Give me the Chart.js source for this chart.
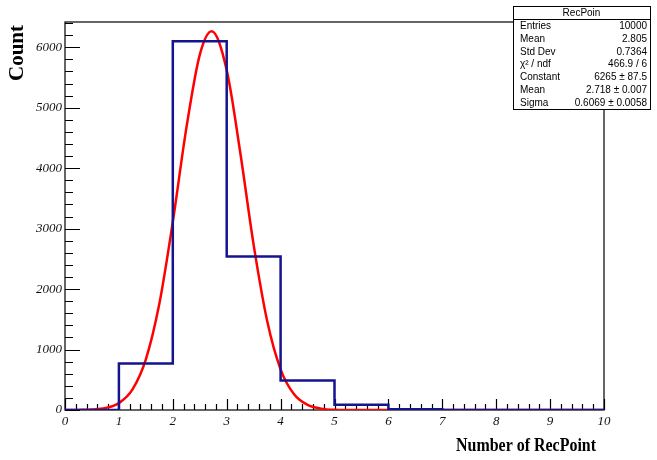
<html><head>
<style>
  body { margin: 0; background: #fff; }
  #wrap { width: 657px; height: 460px; position: relative; }
</style>
<script src="https://cdn.jsdelivr.net/npm/chart.js"></script>
</head>
<body>
<div id="wrap"><canvas id="chart"></canvas></div>
<script>
// histogram: lower bin edges and counts (last point closes the range at 10)
const binEdges = [0, 1, 2, 3, 4, 5, 6, 7, 8, 9, 10];
const binCounts = [0, 770, 6100, 2540, 490, 88, 12, 0, 0, 0, 0];

// gaussian fit curve
const fitX = [0, 0.25, 0.5, 0.75, 1, 1.25, 1.5, 1.75, 2, 2.25, 2.5, 2.72, 3, 3.25, 3.5, 3.75, 4, 4.25, 4.5, 4.75, 5, 5.5, 6, 7, 8, 9, 10];
const fitY = [0, 2, 8, 33, 114, 336, 836, 1756, 3112, 4654, 5874, 6265, 5624, 4267, 2731, 1476, 673, 259, 84, 23, 5, 0, 0, 0, 0, 0, 0];

const yTicks = [0, 1000, 2000, 3000, 4000, 5000, 6000];
const xTicks = [0, 1, 2, 3, 4, 5, 6, 7, 8, 9, 10];

const statsTitle = 'RecPoin';
const statsLabels = ['Entries', 'Mean', 'Std Dev', 'χ² / ndf', 'Constant', 'Mean', 'Sigma'];
const statsValues = ['10000', '2.805', '0.7364', '466.9 / 6', '6265 ± 87.5', '2.718 ± 0.007', '0.6069 ± 0.0058'];

const frame = {
  id: 'frame',
  beforeDatasetsDraw(chart) {
    const ctx = chart.ctx, a = chart.chartArea;
    const xs = chart.scales.x, ys = chart.scales.y;
    ctx.save();
    ctx.strokeStyle = '#000';
    ctx.lineWidth = 1.2;
    ctx.strokeRect(a.left, a.top, a.right - a.left, a.bottom - a.top);
    ctx.beginPath();
    // y ticks, inside
    for (let v = 0; v <= ys.max; v += 200) {
      const py = Math.round(ys.getPixelForValue(v)) + 0.5;
      const len = v % 1000 === 0 ? 15 : 8;
      ctx.moveTo(a.left, py);
      ctx.lineTo(a.left + len, py);
    }
    // x ticks, inside
    for (let i = 0; i <= 50; i++) {
      const px = Math.round(xs.getPixelForValue(i / 5)) + 0.5;
      const len = i % 5 === 0 ? 11 : 6;
      ctx.moveTo(px, a.bottom);
      ctx.lineTo(px, a.bottom - len);
    }
    ctx.stroke();

    // axis titles
    ctx.fillStyle = '#000';
    ctx.font = 'bold 19px "Liberation Serif"';
    ctx.textAlign = 'right';
    ctx.textBaseline = 'middle';
    ctx.fillText('Number of RecPoint', 596, 446, 140);
    ctx.translate(18, 25);
    ctx.rotate(-Math.PI / 2);
    ctx.font = 'bold 21px "Liberation Serif"';
    ctx.fillText('Count', 0, 0, 57);
    ctx.restore();
  },
  afterDraw(chart) {
    const ctx = chart.ctx;
    const bx = 513, by = 6, bw = 137, bh = 103;
    ctx.save();
    ctx.fillStyle = '#fff';
    ctx.fillRect(bx, by, bw, bh);
    ctx.strokeStyle = '#000';
    ctx.lineWidth = 1;
    ctx.strokeRect(bx + 0.5, by + 0.5, bw, bh);
    ctx.beginPath();
    ctx.moveTo(bx, 19.5);
    ctx.lineTo(bx + bw, 19.5);
    ctx.stroke();
    ctx.fillStyle = '#000';
    ctx.font = '10px "Liberation Sans"';
    ctx.textBaseline = 'middle';
    ctx.textAlign = 'center';
    ctx.fillText(statsTitle, bx + bw / 2, 13.5);
    for (let i = 0; i < statsLabels.length; i++) {
      const ry = 26 + i * 12.9;
      ctx.textAlign = 'left';
      ctx.fillText(statsLabels[i], 520, ry);
      ctx.textAlign = 'right';
      ctx.fillText(statsValues[i], 647, ry);
    }
    ctx.restore();
  }
};

const tickFont = { family: 'Liberation Serif', style: 'italic', size: 13 };

new Chart(document.getElementById('chart'), {
  type: 'line',
  data: {
    datasets: [{
      label: 'RecPoint',
      data: binEdges.map((x, i) => ({ x: x, y: binCounts[i] })),
      stepped: true,
      borderColor: '#14148f',
      borderWidth: 2.5,
      pointRadius: 0,
      fill: false
    }, {
      label: 'gaus',
      data: fitX.map((x, i) => ({ x: x, y: fitY[i] })),
      borderColor: '#ff0000',
      borderWidth: 2.5,
      cubicInterpolationMode: 'monotone',
      pointRadius: 0,
      fill: false
    }]
  },
  options: {
    responsive: true,
    maintainAspectRatio: false,
    animation: false,
    layout: { padding: { left: 0, top: 22, right: 53, bottom: 0 } },
    plugins: { legend: { display: false }, tooltip: { enabled: false } },
    scales: {
      x: {
        type: 'linear',
        min: 0, max: 10,
        grid: { display: false, drawTicks: false },
        border: { display: false },
        afterFit(s) { s.height = 50; },
        afterBuildTicks(s) { s.ticks = xTicks.map(v => ({ value: v })); },
        ticks: { font: tickFont, color: '#111', padding: 4, autoSkip: false, maxRotation: 0,
                 callback: v => String(v) }
      },
      y: {
        min: 0, max: 6418,
        grid: { display: false, drawTicks: false },
        border: { display: false },
        afterFit(s) { s.width = 65; },
        afterBuildTicks(s) { s.ticks = yTicks.map(v => ({ value: v })); },
        ticks: { font: tickFont, color: '#111', padding: 3, callback: v => String(v) }
      }
    }
  },
  plugins: [frame]
});
</script>
</body></html>
